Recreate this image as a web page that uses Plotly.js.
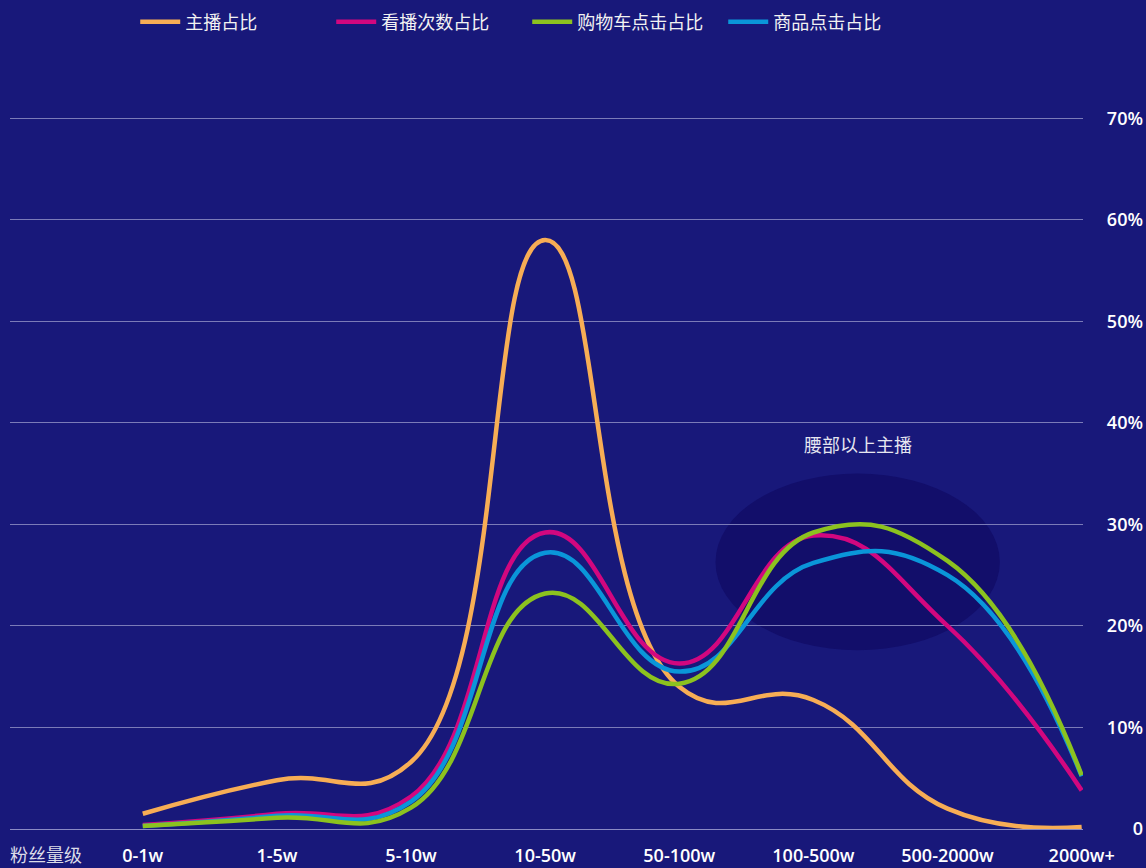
<!DOCTYPE html>
<html>
<head>
<meta charset="utf-8">
<script src="https://cdn.plot.ly/plotly-3.0.1.min.js"></script>
<style>
html,body{margin:0;padding:0;background:#18187a;}
#chart{width:1146px;height:868px;}
</style>
</head>
<body>
<div id="chart"></div>
<script>
// ---- data (percent) ----
const categories = ['0-1w','1-5w','5-10w','10-50w','50-100w','100-500w','500-2000w','2000w+'];
const anchorShare = [1.5, 4.8, 6.6, 58.0, 14.0, 12.7, 2.0, 0.2];   // 主播占比
const viewShare   = [0.4, 1.5, 3.2, 29.2, 16.3, 28.9, 20.0, 3.8];  // 看播次数占比
const itemShare   = [0.3, 1.3, 2.7, 27.2, 15.5, 26.2, 25.0, 5.2];  // 商品点击占比
const cartShare   = [0.3, 1.1, 2.1, 23.2, 14.3, 29.2, 26.4, 5.3];  // 购物车点击占比
const yTickVals   = [0, 10, 20, 30, 40, 50, 60, 70];
const yTickText   = ['0', '10%', '20%', '30%', '40%', '50%', '60%', '70%'];

const FONT = 'Open Sans, Noto Sans CJK SC, sans-serif';
const CJK = 'Noto Sans CJK SC, Open Sans, sans-serif';

function mk(name, y, color, rank) {
  return {
    type: 'scatter', mode: 'lines', name: name, x: categories, y: y,
    line: {color: color, width: 4.5, shape: 'spline', smoothing: 1.3},
    legendrank: rank,
    hovertemplate: '%{x}: %{y}%<extra>' + name + '</extra>'
  };
}

const traces = [
  mk('主播占比', anchorShare, '#f7ad55', 1),
  mk('看播次数占比', viewShare, '#d2077f', 2),
  mk('商品点击占比', itemShare, '#0a96d9', 4),
  mk('购物车点击占比', cartShare, '#8cc21f', 3)
];

const layout = {
  width: 1146, height: 868,
  paper_bgcolor: '#18187a', plot_bgcolor: '#18187a',
  margin: {l: 10, r: 3, t: 117, b: 39},
  font: {family: FONT, color: '#ffffff', size: 18},
  showlegend: true,
  legend: {
    orientation: 'h', xref: 'container', yref: 'container',
    x: 0.118, y: 1 - 22/868, xanchor: 'left', yanchor: 'middle',
    itemwidth: 40,
    entrywidth: 141, entrywidthmode: 'pixels',
    font: {family: CJK, size: 18, color: '#f2f2f2'},
    bgcolor: 'rgba(0,0,0,0)', traceorder: 'normal'
  },
  xaxis: {
    type: 'category', domain: [0, 1073/1133],
    range: [-0.99, 7.01],
    showgrid: false, zeroline: false,
    showline: true, linecolor: '#8a8ac4', linewidth: 1,
    ticks: '', ticklabelstandoff: 10,
    tickfont: {family: FONT, size: 18, color: '#ffffff', weight: 600},
    fixedrange: true
  },
  yaxis: {
    range: [0, 70.12], side: 'left', anchor: 'free', position: 1,
    tickvals: yTickVals, ticktext: yTickText,
    showgrid: true, gridcolor: '#7b7bb8', gridwidth: 1,
    zeroline: false, showline: false, ticks: '',
    tickfont: {family: FONT, size: 18, color: '#ffffff', weight: 600},
    fixedrange: true
  },
  shapes: [{
    type: 'circle', xref: 'x', yref: 'y', layer: 'below',
    x0: 4.27, x1: 6.39, y0: 17.6, y1: 35.0,
    fillcolor: '#120e6a', line: {width: 0}
  }],
  annotations: [
    {text: '腰部以上主播', xref: 'x', yref: 'y', x: 5.33, y: 37.9,
     showarrow: false, font: {family: CJK, size: 18, color: '#e6e6f0'}},
    {text: '粉丝量级', xref: 'paper', yref: 'paper', x: 0, y: 0, xanchor: 'left', yanchor: 'middle',
     yshift: -25, xshift: -2, showarrow: false,
     font: {family: CJK, size: 18, color: '#dcdce8'}}
  ]
};

Plotly.newPlot('chart', traces, layout, {displayModeBar: false, responsive: false});
</script>
</body>
</html>
